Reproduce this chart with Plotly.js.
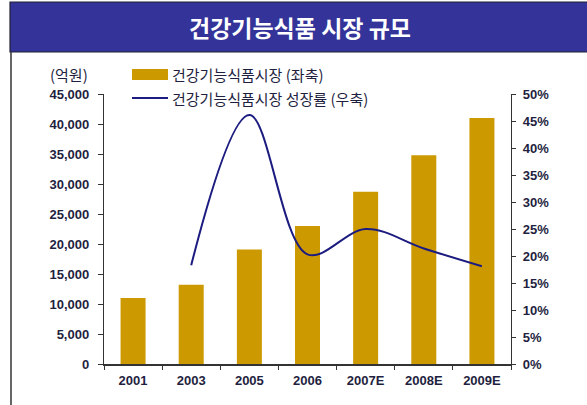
<!DOCTYPE html>
<html><head><meta charset="utf-8">
<script src="https://cdn.plot.ly/plotly-3.0.1.min.js"></script>
<style>html,body{margin:0;padding:0;background:#fff;}#chart{width:587px;height:405px;}</style>
</head><body><div id="chart"></div>
<script>
const categories = ['2001','2003','2005','2006','2007E','2008E','2009E'];
const marketSize = [11000, 13200, 19100, 23000, 28700, 34800, 41000];
const growthRate = [null, 0.183, 0.461, 0.203, 0.250, 0.214, 0.181];
const barName = '건강기능식품시장 (좌축)';
const lineName = '건강기능식품시장 성장률 (우축)';
const chartTitle = '건강기능식품 시장 규모';
const unitLabel = '(억원)';

const W = 587, H = 405, L = 104, R = 511, T = 94, B = 364;
const px = v => (v - L) / (R - L);
const py = v => (B - v) / (B - T);
const tickFont = {family: 'Liberation Sans, Arial, sans-serif', size: 13, color: '#1f1f3f', weight: 'bold'};
const korFont = {family: 'Noto Sans CJK KR, sans-serif', size: 15, color: '#1f1f3f'};
const barColor = '#cc9900', lineColor = '#1c1c80';

const traces = [
  {type: 'bar', x: categories, y: marketSize, name: barName, marker: {color: barColor}, showlegend: false, hoverinfo: 'skip'},
  {type: 'scatter', mode: 'lines', x: categories, y: growthRate, yaxis: 'y2', name: lineName,
   line: {color: lineColor, width: 2, shape: 'spline', smoothing: 1}, connectgaps: false, showlegend: false, hoverinfo: 'skip'}
];

const layout = {
  width: W, height: H,
  margin: {l: L, r: W - R, t: T, b: H - B, pad: 0},
  paper_bgcolor: '#fff', plot_bgcolor: '#fff',
  bargap: 0.57,
  title: {text: chartTitle, x: 300 / W, xanchor: 'center', y: 1 - 28.5 / H, yanchor: 'middle', yref: 'container',
          font: {family: 'Noto Sans CJK KR, sans-serif', size: 23, color: '#ffffff', weight: 'bold'}},
  xaxis: {type: 'category', showline: true, linecolor: '#333', linewidth: 1.5, ticks: 'outside', tickson: 'boundaries',
          ticklen: 4, tickcolor: '#333', tickfont: tickFont, showgrid: false, zeroline: false, fixedrange: true,
          ticklabelstandoff: 4},
  yaxis: {range: [0, 45000], dtick: 5000, tickformat: ',d', showline: true, linecolor: '#333', linewidth: 1.2,
          ticks: 'outside', ticklen: 5, tickcolor: '#333', tickfont: tickFont, showgrid: false, zeroline: false,
          ticklabelstandoff: 6},
  yaxis2: {overlaying: 'y', side: 'right', range: [0, 0.5], dtick: 0.05, tickformat: '.0%', showline: true,
           linecolor: '#333', linewidth: 1.2, ticks: 'outside', ticklen: 4, tickcolor: '#333', tickfont: tickFont,
           showgrid: false, zeroline: false, ticklabelstandoff: 4},
  shapes: [
    {type: 'rect', xref: 'paper', yref: 'paper', x0: px(10), x1: px(592), y0: py(52), y1: py(2),
     fillcolor: '#333399', line: {color: '#222233', width: 1.2}, layer: 'below'},
    {type: 'line', xref: 'paper', yref: 'paper', x0: px(11), x1: px(11), y0: py(52), y1: py(410),
     line: {color: '#333', width: 1.5}},
    {type: 'rect', xref: 'paper', yref: 'paper', x0: px(132), x1: px(168), y0: py(80), y1: py(69),
     fillcolor: barColor, line: {width: 0}},
    {type: 'line', xref: 'paper', yref: 'paper', x0: px(132), x1: px(168), y0: py(98), y1: py(98),
     line: {color: lineColor, width: 2}}
  ],
  annotations: [
    {xref: 'paper', yref: 'paper', x: px(170), y: py(75), xanchor: 'left', yanchor: 'middle', text: barName, showarrow: false, font: korFont},
    {xref: 'paper', yref: 'paper', x: px(170), y: py(98), xanchor: 'left', yanchor: 'middle', text: lineName, showarrow: false, font: korFont},
    {xref: 'paper', yref: 'paper', x: px(90), y: py(75), xanchor: 'right', yanchor: 'middle', text: unitLabel, showarrow: false, font: korFont}
  ]
};
Plotly.newPlot('chart', traces, layout, {displayModeBar: false, staticPlot: true});
</script></body></html>
